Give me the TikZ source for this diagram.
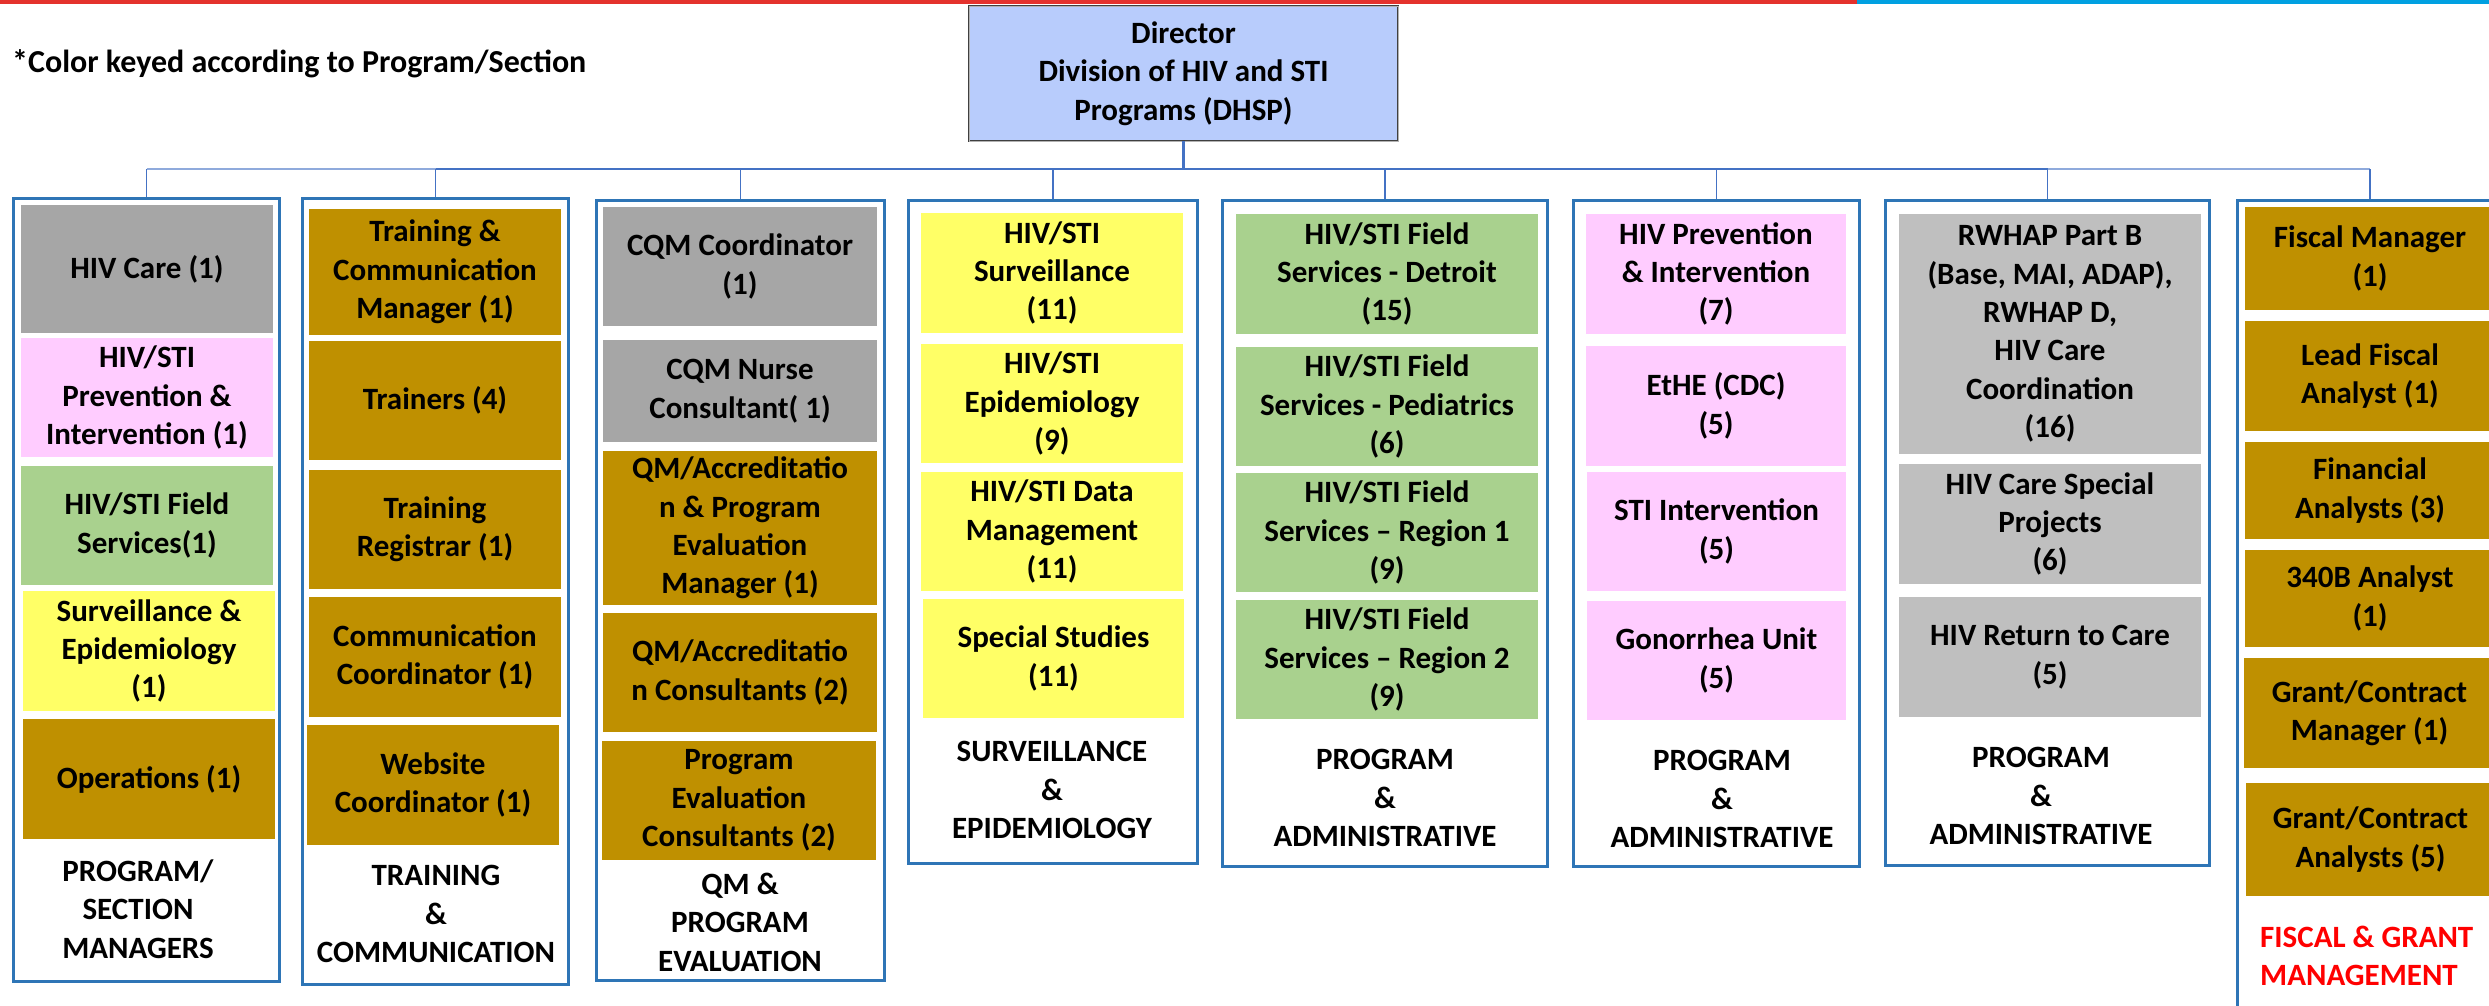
\documentclass[tikz,border=0pt]{standalone}
\usepackage{fontspec}
\setmainfont{Carlito}
\definecolor{cgray}{RGB}{166,166,166}
\definecolor{clgray}{RGB}{191,191,191}
\definecolor{cpink}{RGB}{255,204,255}
\definecolor{cgreen}{RGB}{169,209,142}
\definecolor{cyellow}{RGB}{255,255,102}
\definecolor{cgold}{RGB}{191,144,0}
\definecolor{colblue}{RGB}{46,117,182}
\definecolor{conn}{RGB}{68,114,196}
\definecolor{connlight}{RGB}{143,170,220}
\definecolor{dirblue}{RGB}{184,204,252}
\definecolor{topred}{RGB}{228,50,45}
\definecolor{topblue}{RGB}{0,160,225}
\tikzset{
  txt/.style={font=\fontsize{31}{38.4}\selectfont\bfseries, align=center, inner sep=0pt},
  unit/.style={txt, rectangle, draw=none},
  colbox/.style={rectangle, draw=colblue, line width=3pt, fill=white, inner sep=0pt},
  lbl/.style={txt, text=black},
  busthin/.style={draw=connlight, line width=1.6pt},
  busthick/.style={draw=conn, line width=2.4pt},
  drop/.style={draw=conn, line width=1.3pt},
  dirbox/.style={txt, rectangle, fill=dirblue, draw=black!75, line width=0.9pt, double=gray!60, double distance=1pt}
}
\newcommand\ubx[7]{\node[unit, fill=#6, minimum width={(#4-#2)*1pt}, minimum height={(#5-#3)*1pt}] (#1) at ({(#2+#4)/2},{(#3+#5)/2}) {#7};}
\newcommand\cbx[5]{\node[colbox, minimum width={(#4-#2-3)*1pt}, minimum height={(#5-#3-3)*1pt}] (#1) at ({(#2+#4)/2},{(#3+#5)/2}) {};}
\begin{document}
\begin{tikzpicture}[x=1pt,y=-1pt]
\useasboundingbox (0,0) rectangle (2489,1005);
\clip (0,0) rectangle (2489,1005);
% top bar
\fill[topred] (0,0) rectangle (1857,4);
\fill[topblue] (1857,0) rectangle (2489,4);
% header note
\node[txt, font=\fontsize{32}{38.4}\selectfont\bfseries, anchor=base west] (note) at (12,72) {*Color keyed according to Program/Section};
% director
\node[dirbox, minimum width=429pt, minimum height=135pt] (dir) at (1183.5,73.5) {Director\\Division of HIV and STI\\Programs (DHSP)};
% columns
\cbx{colA}{12}{197}{281}{983}
\cbx{colB}{301}{197}{570}{986}
\cbx{colC}{595}{199}{886}{982}
\cbx{colD}{907}{199}{1199}{865}
\cbx{colE}{1221}{199}{1549}{868}
\cbx{colF}{1572}{199}{1861}{868}
\cbx{colG}{1884}{199}{2211}{867}
\cbx{colH}{2236}{199}{2504}{1040}
% connectors
\coordinate (bus) at (0,169);
\draw[busthin] (colA.north |- bus) -- (colH.north |- bus);
\draw[busthick] (colB.north |- bus) -- (colG.north |- bus);
\draw[busthick] (dir.south) -- (dir.south |- bus);
\foreach \c in {colA,colB,colC,colD,colE,colF,colG,colH}
  \draw[drop] (\c.north |- bus) -- (\c.north);
% column A
\ubx{a1}{21}{205}{273}{333}{cgray}{HIV Care (1)}
\ubx{a2}{21}{338}{273}{457}{cpink}{HIV/STI\\Prevention \&\\Intervention (1)}
\ubx{a3}{21}{466}{273}{585}{cgreen}{HIV/STI Field\\Services(1)}
\ubx{a4}{23}{591}{275}{711}{cyellow}{Surveillance \&\\Epidemiology\\(1)}
\ubx{a5}{23}{719}{275}{839}{cgold}{Operations (1)}
\node[lbl] (la) at (138,909) {PROGRAM/\\SECTION\\MANAGERS};
% column B
\ubx{b1}{309}{209}{561}{335}{cgold}{Training \&\\Communication\\Manager (1)}
\ubx{b2}{309}{341}{561}{460}{cgold}{Trainers (4)}
\ubx{b3}{309}{470}{561}{589}{cgold}{Training\\Registrar (1)}
\ubx{b4}{309}{597}{561}{717}{cgold}{Communication\\Coordinator (1)}
\ubx{b5}{307}{725}{559}{845}{cgold}{Website\\Coordinator (1)}
\node[lbl] (lb) at (436,914) {TRAINING\\\&\\COMMUNICATION};
% column C
\ubx{c1}{603}{207}{877}{326}{cgray}{CQM Coordinator\\(1)}
\ubx{c2}{603}{340}{877}{442}{cgray}{CQM Nurse\\Consultant( 1)}
\ubx{c3}{603}{451}{877}{605}{cgold}{QM/Accreditatio\\n \& Program\\Evaluation\\Manager (1)}
\ubx{c4}{603}{613}{877}{732}{cgold}{QM/Accreditatio\\n Consultants (2)}
\ubx{c5}{602}{741}{876}{860}{cgold}{Program\\Evaluation\\Consultants (2)}
\node[lbl] (lc) at (740,922) {QM \&\\PROGRAM\\EVALUATION};
% column D
\ubx{d1}{921}{213}{1183}{333}{cyellow}{HIV/STI\\Surveillance\\(11)}
\ubx{d2}{921}{344}{1183}{463}{cyellow}{HIV/STI\\Epidemiology\\(9)}
\ubx{d3}{921}{472}{1183}{591}{cyellow}{HIV/STI Data\\Management\\(11)}
\ubx{d4}{923}{599}{1184}{718}{cyellow}{Special Studies\\(11)}
\node[lbl] (ld) at (1052,790) {SURVEILLANCE\\\&\\EPIDEMIOLOGY};
% column E
\ubx{e1}{1236}{214}{1538}{334}{cgreen}{HIV/STI Field\\Services - Detroit\\(15)}
\ubx{e2}{1236}{347}{1538}{466}{cgreen}{HIV/STI Field\\Services - Pediatrics\\(6)}
\ubx{e3}{1236}{473}{1538}{592}{cgreen}{HIV/STI Field\\Services – Region 1\\(9)}
\ubx{e4}{1236}{600}{1538}{719}{cgreen}{HIV/STI Field\\Services – Region 2\\(9)}
\node[lbl] (le) at (1385,798) {PROGRAM\\\&\\ADMINISTRATIVE};
% column F
\ubx{f1}{1586}{214}{1846}{334}{cpink}{HIV Prevention\\\& Intervention\\(7)}
\ubx{f2}{1586}{346}{1846}{466}{cpink}{EtHE (CDC)\\(5)}
\ubx{f3}{1587}{472}{1846}{591}{cpink}{STI Intervention\\(5)}
\ubx{f4}{1587}{601}{1846}{720}{cpink}{Gonorrhea Unit\\(5)}
\node[lbl] (lf) at (1722,799) {PROGRAM\\\&\\ADMINISTRATIVE};
% column G
\ubx{g1}{1899}{214}{2201}{454}{clgray}{RWHAP Part B\\(Base, MAI, ADAP),\\RWHAP D,\\HIV Care\\Coordination\\(16)}
\ubx{g2}{1899}{464}{2201}{584}{clgray}{HIV Care Special\\Projects\\(6)}
\ubx{g3}{1899}{597}{2201}{717}{clgray}{HIV Return to Care\\(5)}
\node[lbl] (lg) at (2041,796) {PROGRAM\\\&\\ADMINISTRATIVE};
% column H
\ubx{h1}{2245}{207}{2495}{310}{cgold}{Fiscal Manager\\(1)}
\ubx{h2}{2245}{321}{2495}{431}{cgold}{Lead Fiscal\\Analyst (1)}
\ubx{h3}{2245}{442}{2495}{539}{cgold}{Financial\\Analysts (3)}
\ubx{h4}{2245}{550}{2495}{647}{cgold}{340B Analyst\\(1)}
\ubx{h5}{2244}{658}{2495}{768}{cgold}{Grant/Contract\\Manager (1)}
\ubx{h6}{2246}{783}{2495}{896}{cgold}{Grant/Contract\\Analysts (5)}
\node[txt, align=left, anchor=west, text=red] (lh) at (2260,956) {FISCAL \& GRANT\\MANAGEMENT};
\end{tikzpicture}
\end{document}
